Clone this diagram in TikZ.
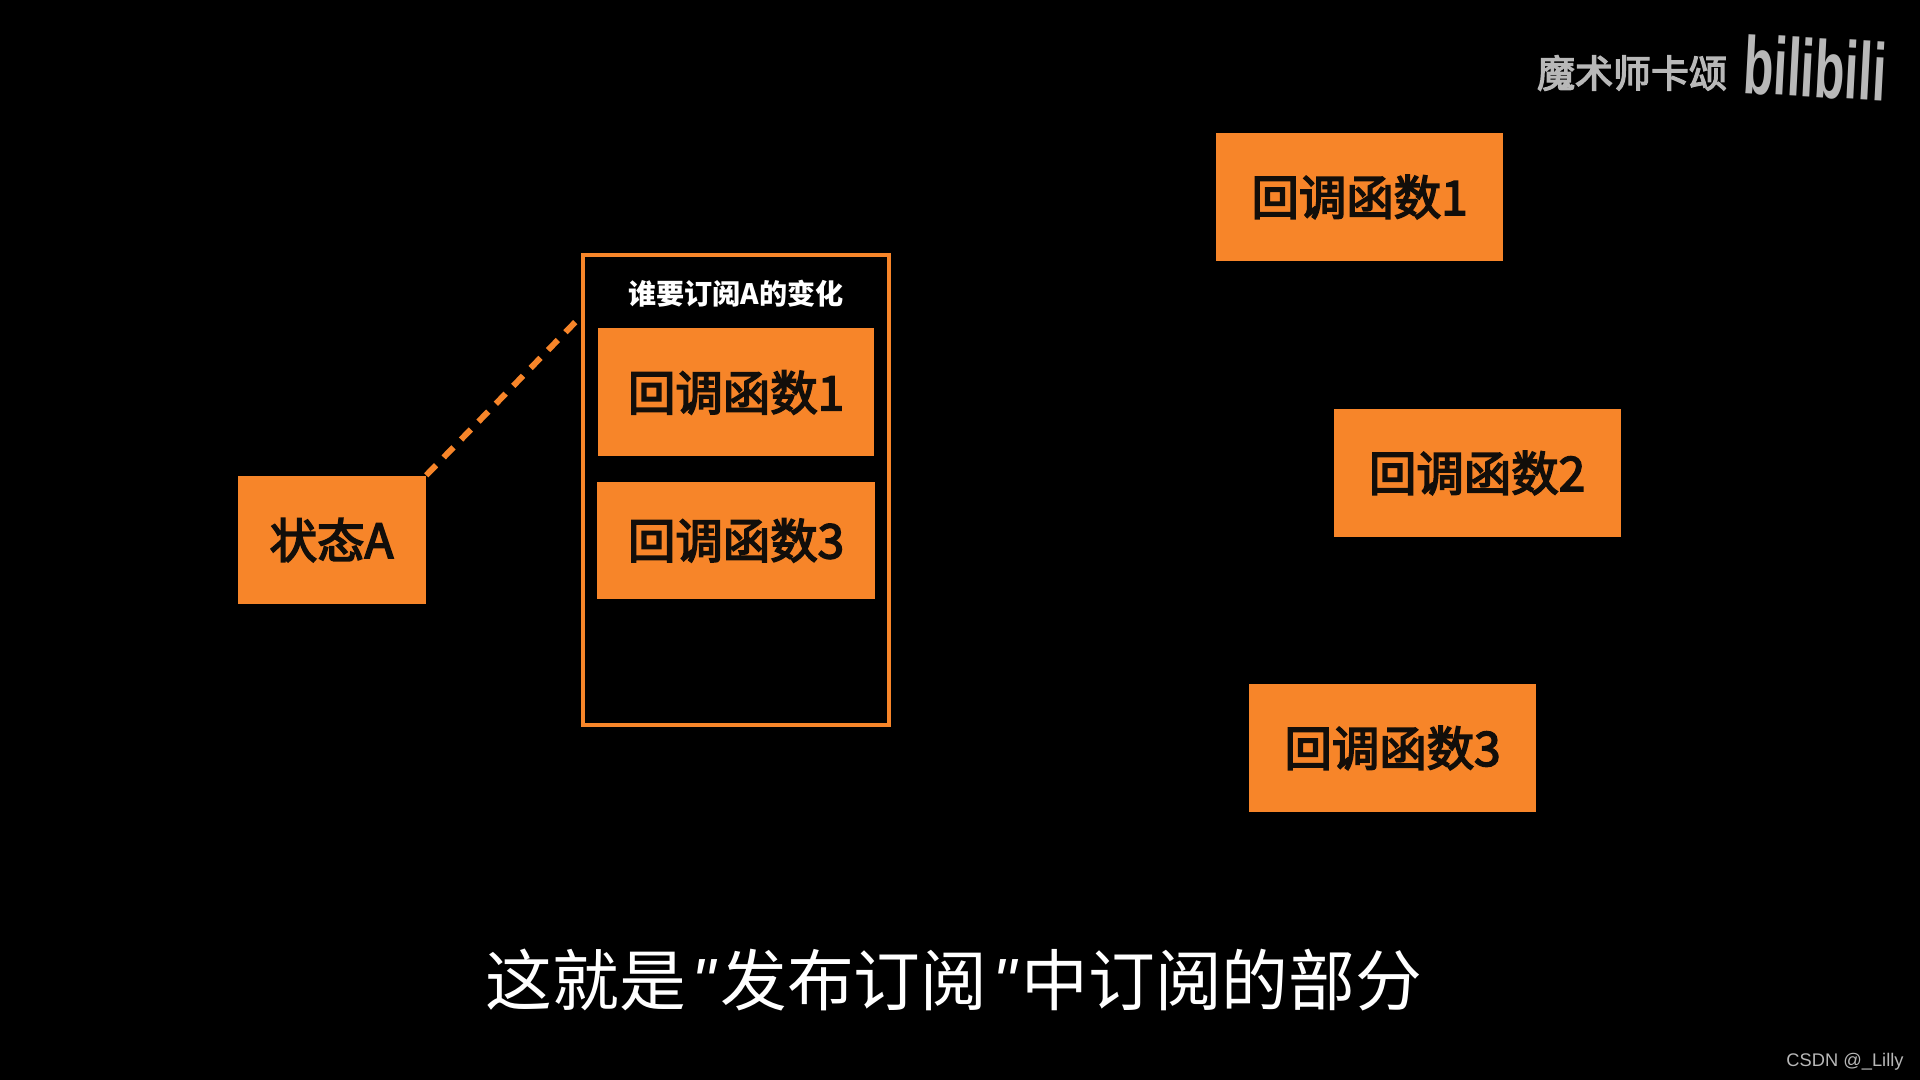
\documentclass[tikz,border=0pt]{standalone}
\usepackage{fontspec}
\setmainfont{Noto Sans CJK SC}
\setsansfont{Liberation Sans}
\newfontfamily\cardfont[FakeBold=3.5]{Noto Sans CJK SC}
\newfontfamily\quotefont{Liberation Sans}
\usetikzlibrary{positioning}
\definecolor{MKorange}{RGB}{247,133,41}
\definecolor{MKgray}{RGB}{184,184,184}
\definecolor{MKink}{RGB}{18,14,10}
\tikzset{
  card/.style={fill=MKorange,text=MKink,align=center,inner sep=0pt,font=\cardfont\fontsize{13.5pt}{16pt}\selectfont,
               minimum width=2.87cm,minimum height=1.28cm},
  listbox/.style={draw=MKorange,line width=1pt,inner sep=0pt,minimum width=3.06cm,minimum height=4.70cm},
  link/.style={draw=MKorange,line width=1.7pt,dash pattern=on 4pt off 3.1pt},
  note/.style={font=\fontsize{8pt}{10pt}\selectfont\bfseries,text=white},
  brand/.style={font=\cardfont\fontsize{10.8pt}{13pt}\selectfont,text=MKgray}
}
\begin{document}
\begin{tikzpicture}
  \useasboundingbox[fill=black] (0,0) rectangle (19.2,10.8);
  \node[listbox] (list) at (7.36,5.90) {};
  \node[note,below=0.14cm of list.north] (title) {谁要订阅A的变化};
  \node[card,minimum width=2.76cm,below=0.745cm of list.north] (sub1) {回调函数1};
  \node[card,minimum width=2.78cm,minimum height=1.17cm,below=0.24cm of sub1] (sub3) {回调函数3};
  \node[card,minimum width=1.88cm,left=1.55cm of list.west,yshift=-0.50cm] (state) {状态A};
  \node[card] (cb1) at (13.595,8.83) {回调函数1};
  \node[card] (cb2) at (14.77,6.07) {回调函数2};
  \node[card] (cb3) at (13.925,3.32) {回调函数3};
  \coordinate (attach) at (list.west |- 0,7.64);
  \draw[link] (state.north east) -- (attach);
  \node[font=\fontsize{19pt}{22pt}\selectfont,text=white] (caption) at (9.54,1.0) {这就是\hspace{1.5pt}{\quotefont\itshape "}\hspace{1.5pt}发布订阅\hspace{1.5pt}{\quotefont\itshape "}\hspace{1.5pt}中订阅的部分};
  \node[brand] (author) at (16.32,10.07) {魔术师卡颂};
  \node[font=\sffamily\bfseries\fontsize{16pt}{18pt}\selectfont,text=MKgray,rotate=-3] (logo) at (18.15,10.12) {\scalebox{0.88}[1.45]{bilibili}};
  \node[font=\sffamily\fontsize{5.2pt}{7pt}\selectfont,text=MKgray] (credit) at (18.45,0.18) {CSDN @\_Lilly};
\end{tikzpicture}
\end{document}
